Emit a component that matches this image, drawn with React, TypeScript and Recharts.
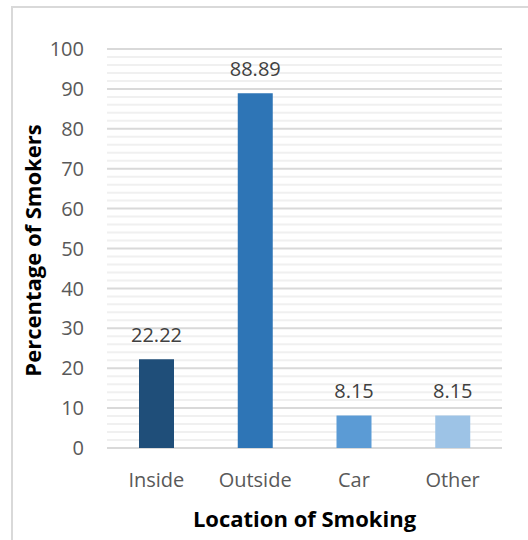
import React from 'react';
import { BarChart, Bar, XAxis, YAxis, CartesianGrid, Cell, LabelList, Label } from 'recharts';

const categories = ['Inside', 'Outside', 'Car', 'Other'];
const percentages = [22.22, 88.89, 8.15, 8.15];
const barColors = ['#1F4E79', '#2E75B6', '#5B9BD5', '#9DC3E6'];
const yMajorTicks = [0, 10, 20, 30, 40, 50, 60, 70, 80, 90, 100];
const yMinorOffsets = [2, 4, 6, 8];

const yAllTicks: number[] = [];
yMajorTicks.forEach((t) => {
  yAllTicks.push(t);
  if (t < 100) yMinorOffsets.forEach((o) => yAllTicks.push(t + o));
});
yAllTicks.sort((a, b) => a - b);

const data = categories.map((c, i) => ({ name: c, value: percentages[i] }));

const FONT = '"Open Sans", sans-serif';

const gridLine = (props: any) => {
  const { x1, x2, y1, y2, index } = props;
  const major = index % 5 === 0;
  return (
    <line
      key={`g-${index}`}
      x1={x1}
      x2={x2}
      y1={y1}
      y2={y2}
      stroke={major ? '#D9D9D9' : '#F0F0F0'}
      strokeWidth={2}
    />
  );
};

export default function App() {
  return (
    <div style={{ position: 'absolute', left: 0, top: 0, width: 528, height: 540, background: '#fff' }}>
      <div
        style={{
          position: 'absolute',
          left: 11,
          top: 6,
          width: 517,
          height: 534,
          borderTop: '2px solid #D9D9D9',
          borderLeft: '2px solid #D9D9D9',
          boxSizing: 'border-box',
        }}
      />
      <div style={{ position: 'absolute', left: 0, top: 0 }}>
        <BarChart
          width={528}
          height={540}
          data={data}
          margin={{ top: 49, right: 26, bottom: 0, left: 0 }}
        >
          <CartesianGrid vertical={false} horizontal={gridLine} />
          <YAxis
            type="number"
            domain={[0, 100]}
            ticks={yAllTicks}
            interval={0}
            width={107}
            axisLine={false}
            tickLine={false}
            tickSize={0}
            tickMargin={23}
            tickFormatter={(v: number) => (yMajorTicks.includes(v) ? String(v) : '')}
            tick={{ fill: '#595959', fontSize: 20, fontFamily: FONT }}
          >
            <Label
              value="Percentage of Smokers"
              angle={-90}
              position="insideLeft"
              offset={33}
              dy={2}
              style={{ textAnchor: 'middle', fontWeight: 700, fontSize: 22, fontFamily: FONT, fill: '#000' }}
            />
          </YAxis>
          <XAxis
            dataKey="name"
            height={92}
            axisLine={false}
            tickLine={false}
            tickSize={0}
            tickMargin={25}
            interval={0}
            tick={{ fill: '#595959', fontSize: 20, fontFamily: FONT }}
          >
            <Label
              value="Location of Smoking"
              position="insideBottom"
              offset={13}
              style={{ fontWeight: 700, fontSize: 22, fontFamily: FONT, fill: '#000' }}
            />
          </XAxis>
          <Bar dataKey="value" barSize={35} isAnimationActive={false}>
            {data.map((d, i) => (
              <Cell key={d.name} fill={barColors[i]} />
            ))}
            <LabelList
              dataKey="value"
              position="top"
              offset={17}
              fill="#404040"
              fontSize={20}
              fontFamily={FONT}
            />
          </Bar>
        </BarChart>
      </div>
    </div>
  );
}
